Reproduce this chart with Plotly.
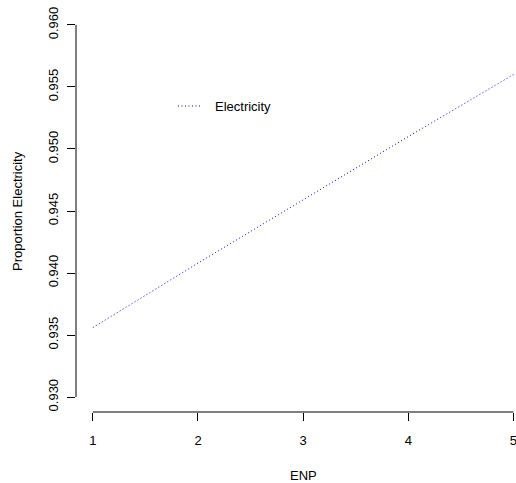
import plotly.graph_objects as go

# Predicted proportion of electricity by ENP
enp = [1, 2, 3, 4, 5]
prop_electricity = [0.9356, 0.9408, 0.9459, 0.9510, 0.9560]

x_ticks = [1, 2, 3, 4, 5]
y_ticks = [0.930, 0.935, 0.940, 0.945, 0.950, 0.955, 0.960]
y_tick_labels = ["0.930", "0.935", "0.940", "0.945", "0.950", "0.955", "0.960"]

series_name = "Electricity"
line_color = "#0000FF"
font_family = "Liberation Sans, Arial, sans-serif"
fs = 13

W, H = 516, 483
L, R, T, B = 76, 0, 10, 71

# R-style axis limits: 4% padding around the tick span
xpad = (x_ticks[-1] - x_ticks[0]) * 0.04
ypad = (y_ticks[-1] - y_ticks[0]) * 0.04
x_lo = x_ticks[0] - xpad
x_hi_full = x_ticks[-1] + xpad
# the full plot region runs slightly past the right edge of the page
plot_w_full = 454.3
x_per_px = (x_hi_full - x_lo) / plot_w_full
x_hi = x_lo + (W - L - R) * x_per_px
y_lo = y_ticks[0] - ypad
y_hi = y_ticks[-1] + ypad

fig = go.Figure()
fig.add_trace(go.Scatter(
    x=enp, y=prop_electricity, mode="lines", name=series_name,
    line=dict(color=line_color, width=1, dash="1px,2.5px"),
    showlegend=False, hoverinfo="x+y",
))

axis_color = "#000000"
tick_font = dict(size=fs, family=font_family, color="#000000")

fig.update_layout(
    width=W, height=H,
    margin=dict(l=L, r=R, t=T, b=B, pad=0, autoexpand=False),
    paper_bgcolor="white", plot_bgcolor="white",
    font=dict(family=font_family, size=fs, color="#000000"),
    xaxis=dict(
        range=[x_lo, x_hi], tickvals=x_ticks, ticktext=[str(v) for v in x_ticks],
        showgrid=False, zeroline=False, showline=False,
        ticks="outside", ticklen=8, tickwidth=1, tickcolor=axis_color,
        ticklabelstandoff=8, ticklabeloverflow="allow", automargin=False,
        tickfont=tick_font,
    ),
    yaxis=dict(
        range=[y_lo, y_hi], tickvals=y_ticks, ticktext=y_tick_labels,
        showgrid=False, zeroline=False, showline=False,
        ticks="outside", ticklen=8, tickwidth=1, tickcolor=axis_color,
        tickangle=-90, ticklabelstandoff=4, ticklabeloverflow="allow",
        automargin=False, tickfont=tick_font,
    ),
    showlegend=False,
)

# Axis lines spanning only the tick range (R base-graphics style)
fig.add_shape(type="line", xref="x", yref="paper",
              x0=x_ticks[0], x1=x_ticks[-1], y0=0, y1=0,
              line=dict(color=axis_color, width=1))
fig.add_shape(type="line", xref="paper", yref="y",
              x0=0, x1=0, y0=y_ticks[0], y1=y_ticks[-1],
              line=dict(color=axis_color, width=1))

# Axis titles
fig.add_annotation(text="ENP", xref="x", yref="paper",
                   x=(x_lo + x_hi_full) / 2, y=-(475 - (H - B)) / (H - T - B),
                   showarrow=False, xanchor="center", yanchor="middle",
                   font=tick_font)
fig.add_annotation(text="Proportion Electricity", xref="paper", yref="y",
                   x=-(L - 17) / (W - L - R), y=(y_lo + y_hi) / 2,
                   textangle=-90, showarrow=False,
                   xanchor="center", yanchor="middle",
                   font=tick_font)

# Legend key: dotted segment and label
pw, ph = W - L - R, H - T - B
leg_y = 1 - (106 - T) / ph
fig.add_shape(type="line", xref="paper", yref="paper",
              x0=(178 - L) / pw, x1=(202 - L) / pw, y0=leg_y, y1=leg_y,
              line=dict(color=line_color, width=1, dash="1px,2.5px"))
fig.add_annotation(text=series_name, xref="paper", yref="paper",
                   x=(213 - L) / pw, y=leg_y, showarrow=False,
                   xanchor="left", yanchor="middle",
                   font=tick_font)

fig.write_html("out.html")
